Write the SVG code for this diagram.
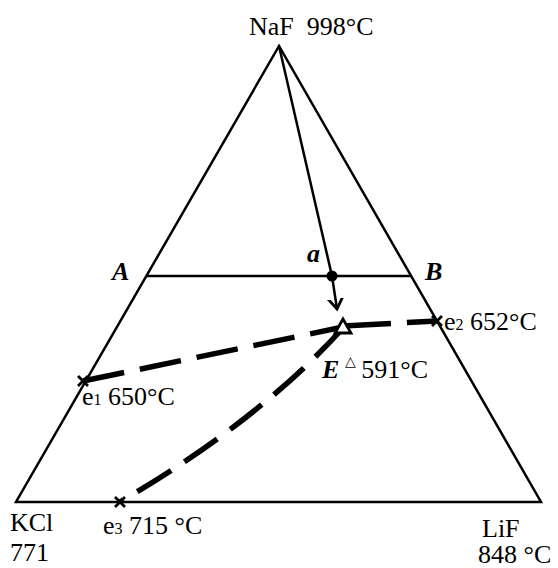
<svg xmlns="http://www.w3.org/2000/svg" width="558" height="568" viewBox="0 0 558 568">
<style>
.t{font-family:"Liberation Serif","Times New Roman",serif;font-size:26px;fill:#000}
.bi{font-weight:bold;font-style:italic}
.ln{stroke:#000;stroke-width:2.5;fill:none}
.dash{stroke:#000;stroke-width:5.5;fill:none;stroke-dasharray:42 16}
.x{stroke:#000;stroke-width:2.8}
</style>
<defs>
<marker id="arr" markerWidth="20" markerHeight="20" refX="10" refY="10" orient="auto" markerUnits="userSpaceOnUse">
<path d="M-2,2 L10,10 L-2,18" fill="none" stroke="#000" stroke-width="2.8"/>
</marker>
</defs>
<g id="triangle">
<polygon class="ln" points="279,46 16,502 541,502"/>
</g>
<g id="connectors">
<line id="AB" class="ln" x1="146" y1="276" x2="412" y2="276"/>
<polyline id="arrow-a" class="ln" stroke-width="2.8" points="279,46 332,276 337,309" marker-end="url(#arr)"/>
<polyline class="dash" points="83,381 343,327"/>
<polyline class="dash" style="stroke-dasharray:48 16" points="343,326 437,321"/>
<path class="dash" style="stroke-dasharray:40 16" d="M343,328 Q260,420 120,502"/>
</g>
<g id="point-a">
<circle cx="332" cy="276" r="5.5" fill="#000"/>
<text class="t bi" x="307" y="262">a</text>
</g>
<g id="A"><text class="t bi" x="112" y="280">A</text></g>
<g id="B"><text class="t bi" x="425" y="280">B</text></g>
<g id="E">
<polygon points="343,319 335,333 351,333" fill="#fff" stroke="#000" stroke-width="2.8"/>
<text class="t" x="322" y="378"><tspan class="bi">E</tspan><tspan font-size="14" dy="-12" dx="6">△</tspan><tspan dy="12" dx="5">591°C</tspan></text>
</g>
<g id="e1">
<path class="x" d="M78,376 L88,386 M78,386 L88,376"/>
<text class="t" x="82" y="405">e<tspan font-size="16">1</tspan> 650°C</text>
</g>
<g id="e2">
<path class="x" d="M432,316 L442,326 M432,326 L442,316"/>
<text class="t" x="444" y="330">e<tspan font-size="16">2</tspan> 652°C</text>
</g>
<g id="e3">
<path class="x" d="M115,497 L125,507 M115,507 L125,497"/>
<text class="t" x="103" y="534">e<tspan font-size="16">3</tspan> 715 °C</text>
</g>
<g id="NaF"><text class="t" x="249" y="35" xml:space="preserve">NaF  998°C</text></g>
<g id="KCl">
<text class="t" x="10" y="531">KCl</text>
<text class="t" x="10" y="561">771</text>
</g>
<g id="LiF">
<text class="t" x="482" y="537">LiF</text>
<text class="t" x="478" y="563">848 °C</text>
</g>
</svg>
